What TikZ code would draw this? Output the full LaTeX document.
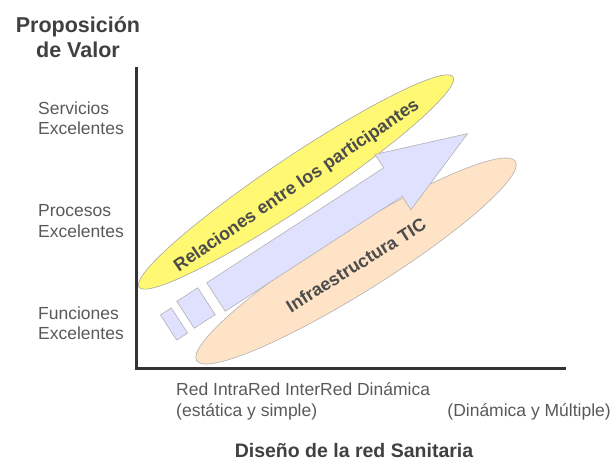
\documentclass[tikz,border=0pt]{standalone}
\usepackage{fontspec}
\setmainfont{Liberation Sans}
\begin{document}
\begin{tikzpicture}[x=1pt,y=1pt,
  lbl/.style={text=black!65, font=\fontsize{17.5}{20.5}\selectfont, align=left, inner sep=0pt},
  ttl/.style={text=black!75, font=\bfseries\fontsize{21.5}{25}\selectfont, align=center, inner sep=0pt},
  axisline/.style={draw=black!80, line width=3pt},
  yell/.style={fill=yellow!55!white, draw=black!35, line width=0.6pt},
  orng/.style={fill=orange!22!white, draw=black!30, line width=0.6pt},
  blu/.style={fill=blue!12!white, draw=black!30, line width=0.6pt},
  inlbl/.style={text=black!70, font=\bfseries\fontsize{18}{20}\selectfont, inner sep=0pt}]
\useasboundingbox (0,0) rectangle (613,-464);
% ellipses
\path[yell] (296,-182) ellipse [x radius=189, y radius=25, rotate=33.8];
\path[orng] (356,-261) ellipse [x radius=188, y radius=31, rotate=32];
% arrow and blocks
\begin{scope}[shift={(216,-297)}, rotate=33]
  \path[blu] (0,-17) -- (211,-17) -- (211,-33) -- (300,0) -- (211,33) -- (211,17) -- (0,17) -- cycle;
\end{scope}
\begin{scope}[shift={(196,-308)}, rotate=33]
  \path[blu] (-12.5,-16) rectangle (12.5,16);
\end{scope}
\begin{scope}[shift={(174,-324)}, rotate=33]
  \path[blu] (-6.5,-15) rectangle (6.5,15);
\end{scope}
\node[inlbl, rotate=34.3] (rel) at (297,-186) {Relaciones entre los participantes};
\node[inlbl, rotate=32] (infra) at (356,-265) {Infraestructura TIC};
% axes
\coordinate (top) at (136,-67);
\coordinate (origin) at (136,-368);
\coordinate (right) at (566,-368);
\draw[axisline] (top) -- (origin) -- (right);
% titles
\node[ttl] (pv) at (78,-37) {Proposición\\de Valor};
\node[ttl, font=\bfseries\fontsize{19.5}{22}\selectfont] (drs) at (354,-451) {Diseño de la red Sanitaria};
% y labels
\node[lbl, anchor=west] (serv) at (38,-118) {Servicios\\Excelentes};
\node[lbl, anchor=west] (proc) at (38,-221) {Procesos\\Excelentes};
\node[lbl, anchor=west] (func) at (38,-323) {Funciones\\Excelentes};
% x labels
\node[lbl, anchor=west] (red) at (176,-389) {Red IntraRed InterRed Dinámica};
\node[lbl, anchor=west] (est) at (176,-412) {(estática y simple)};
\node[lbl, anchor=east] (dyn) at (611,-412) {(Dinámica y Múltiple)};
\end{tikzpicture}
\end{document}
